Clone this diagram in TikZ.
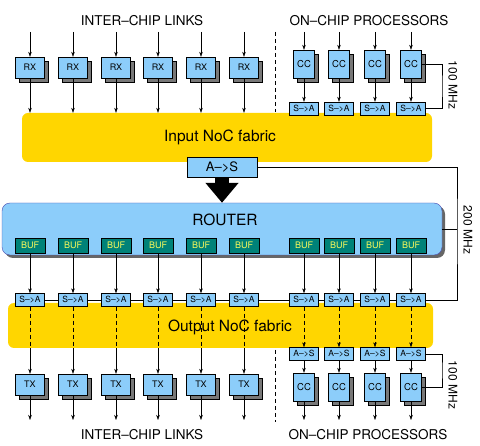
\documentclass[tikz,border=0pt]{standalone}
\usepackage{fontspec}
\setmainfont{TeX Gyre Heros}
\usetikzlibrary{arrows.meta,positioning,shadows}
\definecolor{boxblue}{RGB}{140,205,250}
\definecolor{fabyellow}{RGB}{255,214,0}
\definecolor{bufteal}{RGB}{0,130,120}
\definecolor{bufyellow}{RGB}{250,250,90}
\definecolor{shadowgray}{RGB}{120,120,120}

\begin{document}
\begin{tikzpicture}[x=1pt,y=-1pt,>={Stealth[length=5pt,width=3.5pt]}]
	\tikzstyle{box_io}
	  =[draw, fill=boxblue, minimum width=29pt, minimum height=21pt, inner sep=0pt,
	    font=\fontsize{9}{10}\selectfont,
	    copy shadow={shadow xshift=4pt, shadow yshift=-4pt, fill=shadowgray, draw=black}]
	\tikzstyle{box_cc}
	  =[box_io, minimum width=21pt, minimum height=28pt, font=\fontsize{9.5}{10}\selectfont]
	\tikzstyle{conv}
	  =[draw, fill=boxblue, minimum width=29pt, minimum height=13pt, inner sep=0pt,
	    font=\fontsize{8.5}{9}\selectfont]
	\tikzstyle{buf}
	  =[draw, fill=bufteal, text=bufyellow, minimum width=30pt, minimum height=15pt,
	    inner sep=0pt, font=\fontsize{9}{10}\selectfont]
	\tikzstyle{fabric}
	  =[fill=fabyellow, rounded corners=6pt, inner sep=0pt]
	\tikzstyle{title_lg}
	  =[font=\fontsize{13.5}{15}\selectfont]
	\tikzstyle{big_txt}
	  =[font=\fontsize{15.5}{17}\selectfont]
	\tikzstyle{clk_txt}
	  =[font=\fontsize{12}{13}\selectfont, rotate=-90]
	\tikzstyle{sep}
	  =[dash pattern=on 4pt off 3pt]

	\useasboundingbox (0,0) rectangle (480,446);

	% fabrics
	\node[fabric, minimum width=410pt, minimum height=49pt] (fin) at (227,137.5) {};
	\node[big_txt] (fin_txt) at (220,137) {Input NoC fabric};
	\node[fabric, minimum width=425pt, minimum height=45pt] (fout) at (220.5,325.5) {};
	\node[big_txt] (fout_txt) at (230,327) {Output NoC fabric};

	% router
	\node[draw=gray!60!blue, fill=boxblue, rounded corners=8pt,
	  minimum width=440pt, minimum height=52pt,
	  copy shadow={shadow xshift=3pt, shadow yshift=-3pt, fill=gray!80!black, draw=none}]
	  (router) at (222,229) {};
	\node[big_txt] (router_txt) at (225,220) {ROUTER};

	% column titles
	\node[title_lg] (links_top) at (142,21) {INTER–CHIP LINKS};
	\node[title_lg] (proc_top) at (369,21) {ON–CHIP PROCESSORS};
	\node[title_lg] (links_bot) at (142,435) {INTER–CHIP LINKS};
	\node[title_lg] (proc_bot) at (368,435) {ON–CHIP PROCESSORS};

	% inter-chip columns
	\foreach \x [count=\i] in {30,73,116,158,201,244} {
	  \coordinate (rx_in\i) at (\x,32);
	  \coordinate (tx_out\i) at (\x,420);
	  \coordinate (fab_out\i) at (\x,348);
	  \node[box_io] (rx\i) at (\x,67.5) {RX};
	  \node[box_io] (tx\i) at (\x,384.5) {TX};
	  \draw[->] (rx_in\i)--(rx\i);
	  \draw[->] (rx\i.south)--(rx\i.south |- fin.north);
	  \draw[->] (tx\i.south)--(tx_out\i);
	}

	% processor columns
	\foreach \x [count=\i] in {304,339,375,411} {
	  \coordinate (cc_in\i) at (\x,32);
	  \coordinate (cc_out\i) at (\x,420);
	  \node[box_cc] (cct\i) at (\x,64) {CC};
	  \node[conv] (sat\i) at (\x,108.5) {S–>A};
	  \node[conv] (asb\i) at (\x,354) {A–>S};
	  \node[box_cc] (ccb\i) at (\x,387) {CC};
	  \draw[->] (cc_in\i)--(cct\i);
	  \draw[->] (cct\i)--(sat\i);
	  \draw[->] (asb\i)--(ccb\i);
	  \draw[->] (ccb\i.south)--(cc_out\i);
	}

	% buffers and output converters
	\foreach \x [count=\i] in {30,73,116,158,201,244,304,339,375,411} {
	  \node[buf] (buf\i) at (\x,245.5) {BUF};
	  \node[conv] (sab\i) at (\x,300) {S–>A};
	  \draw[->] (buf\i)--(sab\i);
	}
	\foreach \i [evaluate=\i as \j using int(\i+1)] in {1,...,9}
	  \draw (sab\i.east)--(sab\j.west);

	\foreach \i in {1,...,6} {
	  \draw[sep] (sab\i)--(fab_out\i);
	  \draw[->] (fab_out\i)--(tx\i);
	}
	\foreach \i [evaluate=\i as \j using int(\i+6)] in {1,...,4}
	  \draw[sep,->] (sab\j)--(asb\i);

	% input A->S and big arrow
	\node[conv, minimum width=70pt, minimum height=20pt,
	  font=\fontsize{13}{14}\selectfont] (as_in) at (222,167) {A–>S};
	\draw[line width=14pt, -{Triangle[length=20pt,width=32pt]}] (as_in)--(router);

	% clock domains
	\coordinate (clk200) at (457,229);
	\draw (as_in.east) -| (clk200) |- (sab10.east);
	\draw (router.east)--(clk200);
	\node[clk_txt] (clk200_txt) at (468,230) {200 MHz};

	\coordinate (clk100t) at (442,86);
	\draw (cct4.east) -| (clk100t) |- (sat4.east);
	\node[clk_txt] (clk100t_txt) at (453,85) {100 MHz};

	\coordinate (clk100b) at (442,370);
	\draw (asb4.east) -| (clk100b) |- (ccb4.east);
	\node[clk_txt] (clk100b_txt) at (453,385) {100 MHz};

	% separators
	\coordinate (sep_t1) at (275,32);
	\coordinate (sep_t2) at (275,112);
	\coordinate (sep_b1) at (275,350);
	\coordinate (sep_b2) at (275,422);
	\draw[sep] (sep_t1)--(sep_t2);
	\draw[sep] (sep_b1)--(sep_b2);
\end{tikzpicture}
\end{document}
